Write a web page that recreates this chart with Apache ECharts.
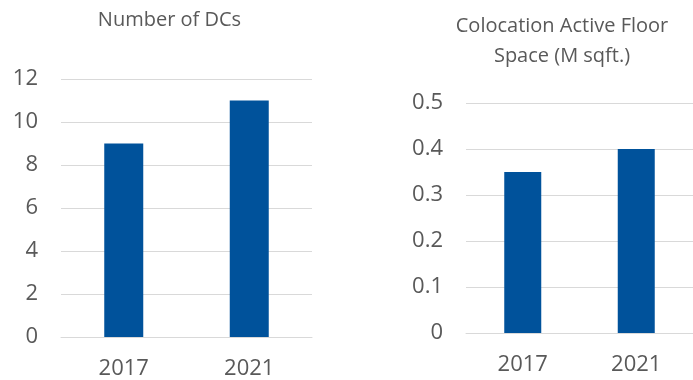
<!DOCTYPE html>
<html>
<head>
<meta charset="utf-8">
<script src="https://cdn.jsdelivr.net/npm/echarts@6/dist/echarts.min.js"></script>
<style>html,body{margin:0;padding:0;background:#fff}#c{width:693px;height:380px}</style>
</head>
<body>
<div id="c"></div>
<script>
const categories = ['2017', '2021'];
const dcCounts = [9, 11];
const floorSpace = [0.35, 0.4];
const leftTitle = 'Number of DCs';
const rightTitle = 'Colocation Active Floor\nSpace (M sqft.)';

const txt = '#595959';
const font = 'Open Sans';
const chart = echarts.init(document.getElementById('c'));
const yAxisCommon = {
  type: 'value',
  axisLine: {show: false}, axisTick: {show: false},
  splitLine: {lineStyle: {color: '#D9D9D9', width: 1}},
  axisLabel: {color: txt, fontFamily: font, fontSize: 22, margin: 23}
};
const xAxisCommon = {
  type: 'category', data: categories,
  axisLine: {lineStyle: {color: '#D9D9D9', width: 1}},
  axisTick: {show: false},
  axisLabel: {color: txt, fontFamily: font, fontSize: 22, margin: 21}
};
chart.setOption({
  animation: false,
  title: [
    {text: leftTitle, left: 169.5, top: 5, textAlign: 'center', padding: 0,
     textStyle: {color: txt, fontFamily: font, fontSize: 20, fontWeight: 'normal', lineHeight: 30}},
    {text: rightTitle, left: 562, top: 11.5, textAlign: 'center', padding: 0,
     textStyle: {color: txt, fontFamily: font, fontSize: 20, fontWeight: 'normal', lineHeight: 30}}
  ],
  grid: [
    {left: 61, right: 381, top: 79, bottom: 41},
    {left: 466, right: -5, top: 103, bottom: 47}
  ],
  xAxis: [
    Object.assign({gridIndex: 0}, xAxisCommon),
    Object.assign({gridIndex: 1}, xAxisCommon)
  ],
  yAxis: [
    Object.assign({gridIndex: 0, min: 0, max: 12, interval: 2}, yAxisCommon),
    Object.assign({gridIndex: 1, min: 0, max: 0.5, interval: 0.1}, yAxisCommon)
  ],
  series: [
    {type: 'bar', xAxisIndex: 0, yAxisIndex: 0, data: dcCounts, barWidth: 39,
     itemStyle: {color: '#00529B'}},
    {type: 'bar', xAxisIndex: 1, yAxisIndex: 1, data: floorSpace, barWidth: 37,
     itemStyle: {color: '#00529B'}}
  ]
});
</script>
</body>
</html>
